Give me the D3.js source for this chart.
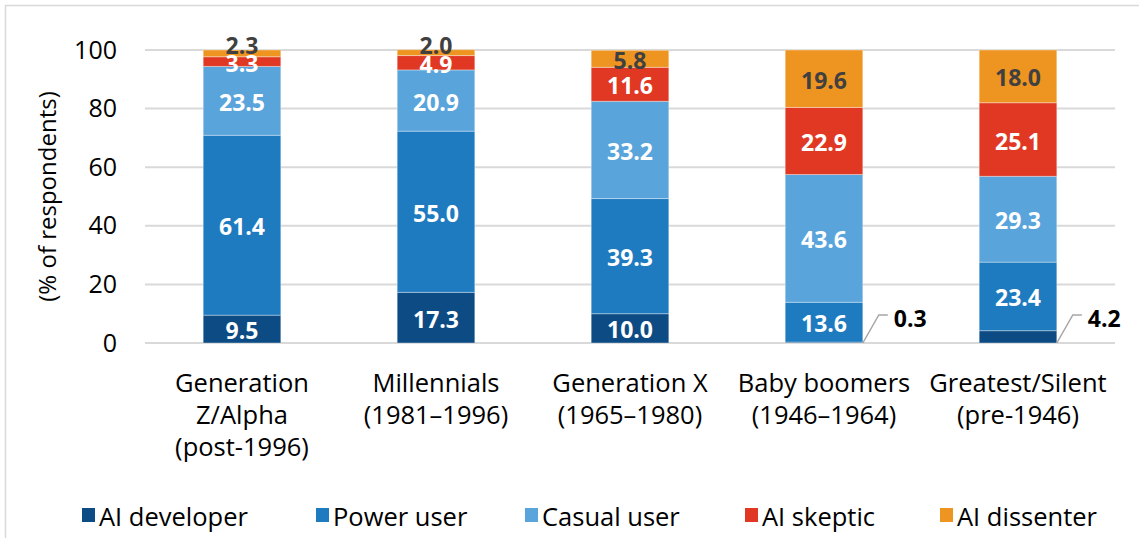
<!DOCTYPE html>
<html>
<head>
<meta charset="utf-8">
<script src="https://cdn.jsdelivr.net/npm/d3@7"></script>
<style>
  body { margin: 0; background: #fff; }
  text { font-family: "Open Sans", sans-serif; }
</style>
</head>
<body>
<div id="chart"></div>
<script>
// categories (label lines)
const categories = [
  ["Generation", "Z/Alpha", "(post-1996)"],
  ["Millennials", "(1981\u20131996)"],
  ["Generation X", "(1965\u20131980)"],
  ["Baby boomers", "(1946\u20131964)"],
  ["Greatest/Silent", "(pre-1946)"]
];
const seriesNames = ["AI developer", "Power user", "Casual user", "AI skeptic", "AI dissenter"];
const seriesColors = ["#0d4b84", "#1f7bc0", "#5aa4dc", "#e03823", "#ee9421"];
const labelColors = ["#ffffff", "#ffffff", "#ffffff", "#ffffff", "#404040"];

// values per series, one per category
const aiDeveloper = [9.5, 17.3, 10.0, 0.3, 4.2];
const powerUser   = [61.4, 55.0, 39.3, 13.6, 23.4];
const casualUser  = [23.5, 20.9, 33.2, 43.6, 29.3];
const aiSkeptic   = [3.3, 4.9, 11.6, 22.9, 25.1];
const aiDissenter = [2.3, 2.0, 5.8, 19.6, 18.0];
const yTicks = [0, 20, 40, 60, 80, 100];

const allSeries = [aiDeveloper, powerUser, casualUser, aiSkeptic, aiDissenter];

const W = 1139, H = 538;
let margin = {top: 50, right: 24, bottom: 195, left: 145};
let width = W - margin.left - margin.right;
let height = H - margin.top - margin.bottom;

const root = d3.select("#chart")
  .append("svg")
    .attr("width", W)
    .attr("height", H);

// outer frame (only top/left visible in the picture)
root.append("rect")
  .attr("x", 5.5).attr("y", 5.5)
  .attr("width", W + 10).attr("height", H + 10)
  .attr("fill", "none")
  .attr("stroke", "#d9d9d9")
  .attr("stroke-width", 1.5);

const svg = root.append("g")
  .attr("transform", "translate(" + margin.left + "," + margin.top + ")");

const x = d3.scaleBand()
  .domain(d3.range(categories.length))
  .range([0, width])
  .paddingInner(0.6)
  .paddingOuter(0.3);

const y = d3.scaleLinear()
  .domain([0, 100])
  .range([height, 0]);

// gridlines
svg.append("g")
  .selectAll("line")
  .data(yTicks)
  .enter()
  .append("line")
    .attr("x1", 0)
    .attr("x2", width)
    .attr("y1", d => y(d))
    .attr("y2", d => y(d))
    .attr("stroke", "#d9d9d9")
    .attr("stroke-width", 2);

// y axis labels
const yAxis = svg.append("g")
  .call(d3.axisLeft(y).tickValues(yTicks).tickSize(0).tickPadding(28));
yAxis.select(".domain").remove();
yAxis.selectAll("text")
  .attr("font-family", "Open Sans")
  .attr("font-size", 25)
  .attr("fill", "#000");

// y axis title
root.append("text")
  .attr("transform", "translate(46," + (margin.top + height / 2) + ") rotate(-90)")
  .attr("text-anchor", "middle")
  .attr("dominant-baseline", "central")
  .attr("font-size", 24)
  .attr("fill", "#000")
  .text("(% of respondents)");

// stacked data
const rows = categories.map((c, i) => {
  const r = {idx: i};
  seriesNames.forEach((s, j) => { r[s] = allSeries[j][i]; });
  return r;
});
const stack = d3.stack().keys(seriesNames);
const stacked = stack(rows);

const layers = svg.append("g")
  .selectAll("g")
  .data(stacked)
  .enter()
  .append("g")
    .attr("fill", (d, i) => seriesColors[i]);

layers.selectAll("rect")
  .data(d => d)
  .enter()
  .append("rect")
    .attr("x", d => x(d.data.idx))
    .attr("y", d => y(d[1]))
    .attr("width", x.bandwidth())
    .attr("height", d => y(d[0]) - y(d[1]))
    .attr("stroke", "rgba(255,255,255,0.35)")
    .attr("stroke-width", 1);

// value labels
stacked.forEach((layer, j) => {
  layer.forEach(d => {
    const val = allSeries[j][d.data.idx];
    const cx = x(d.data.idx) + x.bandwidth() / 2;
    const segH = y(d[0]) - y(d[1]);
    if (j === 0 && segH < 15) {
      // small bottom segment: callout with leader line
      const x0 = x(d.data.idx) + x.bandwidth();
      const y0 = y(d[0]);
      const tx = x0 + 16, ty = y0 - 28;
      svg.append("polyline")
        .attr("points", [[x0, y0], [tx, ty], [tx + 9, ty]].map(p => p.join(",")).join(" "))
        .attr("fill", "none")
        .attr("stroke", "#a6a6a6")
        .attr("stroke-width", 1.5);
      svg.append("text")
        .attr("x", tx + 15)
        .attr("y", ty + 3)
        .attr("dominant-baseline", "central")
        .attr("font-size", 23)
        .attr("font-weight", 700)
        .attr("fill", "#000")
        .text(val.toFixed(1));
      return;
    }
    let cy = (y(d[0]) + y(d[1])) / 2;
    if (j === seriesNames.length - 1 && segH < 10) cy -= 9;
    svg.append("text")
      .attr("x", cx)
      .attr("y", cy + 1)
      .attr("text-anchor", "middle")
      .attr("dominant-baseline", "central")
      .attr("font-size", 23)
      .attr("font-weight", 700)
      .attr("fill", labelColors[j])
      .text(val.toFixed(1));
  });
});

// category labels
const cats = svg.append("g")
  .selectAll("text")
  .data(categories)
  .enter()
  .append("text")
    .attr("text-anchor", "middle")
    .attr("font-size", 25.5)
    .attr("fill", "#000");
cats.each(function (lines, i) {
  d3.select(this).selectAll("tspan")
    .data(lines)
    .enter()
    .append("tspan")
      .attr("x", x(i) + x.bandwidth() / 2)
      .attr("y", (l, k) => height + 49 + k * 32)
      .text(l => l);
});

// legend
const legendX = [82, 316, 525, 745, 940];
const legend = root.append("g")
  .selectAll("g")
  .data(seriesNames)
  .enter()
  .append("g")
    .attr("transform", (d, i) => "translate(" + legendX[i] + "," + 515 + ")");
legend.append("rect")
  .attr("x", 0).attr("y", -7)
  .attr("width", 13).attr("height", 14)
  .attr("fill", (d, i) => seriesColors[i]);
legend.append("text")
  .attr("x", 17)
  .attr("y", 1)
  .attr("dominant-baseline", "central")
  .attr("font-size", 25.5)
  .attr("fill", "#000")
  .text(d => d);
</script>
</body>
</html>
